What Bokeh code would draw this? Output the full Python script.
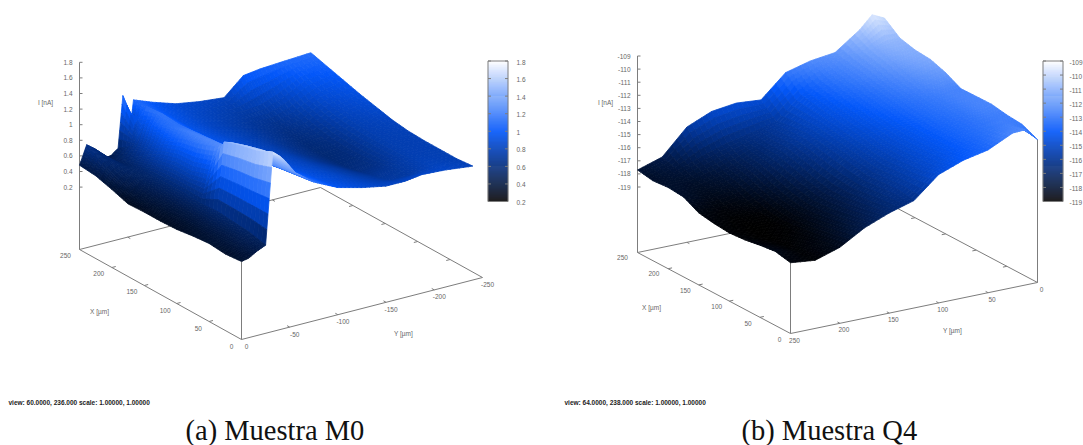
import numpy as np
from bokeh.plotting import figure
from bokeh.models import ColumnDataSource
from bokeh.core.properties import value
from bokeh.embed import file_html
from bokeh.resources import INLINE

# ---------- data ----------
m0_x = [0, 25, 50, 75, 100, 125, 150, 175, 200, 225, 250]
m0_y = [0, -7.5, -16, -25, -32.5, -40, -45, -52.5, -56, -75, -100, -125, -150, -170, -187.5, -212.5, -240]
m0_z = [
 [.40,.42,.48,.53,1.70,1.62,1.55,1.42,1.36,1.18,1.03,.95,.89,.89,.92,.90,.86],
 [.38,.42,.50,.58,1.60,1.58,1.50,1.38,1.32,1.15,1.00,.92,.84,.78,.78,.86,.84],
 [.40,.42,.48,.60,1.55,1.52,1.45,1.33,1.28,1.12,.98,.90,.80,.73,.75,.84,.84],
 [.38,.40,.48,.62,1.48,1.45,1.38,1.28,1.24,1.08,.96,.87,.77,.67,.69,.83,.84],
 [.35,.38,.46,.60,.95,1.28,1.30,1.24,1.20,1.05,.94,.85,.73,.64,.66,.83,.85],
 [.34,.38,.46,.62,.88,1.20,1.27,1.22,1.18,1.03,.92,.83,.71,.63,.65,.83,.88],
 [.34,.40,.48,.62,.88,1.15,1.24,1.20,1.16,1.01,.91,.82,.71,.64,.67,.85,.93],
 [.33,.42,.52,.62,.82,1.05,1.18,1.18,1.14,1.00,.90,.82,.73,.67,.72,.89,.98],
 [.40,.50,.58,.60,.72,.88,1.10,1.20,1.15,1.00,.90,.82,.75,.72,.79,.95,1.04],
 [.46,.60,.62,.55,.62,.72,.85,1.18,1.14,1.02,.92,.85,.80,.82,.90,1.05,1.10],
 [.48,.72,.64,.49,.50,.57,1.23,.78,1.14,1.05,.95,.90,.87,1.09,1.12,1.14,1.16],
]
q4_x = [0, 25, 50, 75, 100, 125, 150, 175, 200, 225, 250]
q4_y = [250, 225, 200, 175, 150, 125, 100, 75, 50, 25, 12.5, 0]
q4_z = [
 [-118.6,-118.8,-118.2,-117.1,-116.35,-115.8,-114.2,-113.5,-113.1,-112.2,-112.15,-113.1],
 [-118.35,-118.8,-118.4,-117.5,-116.6,-115.6,-114.6,-113.8,-113.2,-112.6,-112.4,-112.55],
 [-118.5,-118.9,-118.6,-117.8,-116.8,-115.7,-114.7,-113.9,-113.2,-112.7,-112.5,-112.45],
 [-118.7,-119,-118.8,-118,-117,-115.8,-114.8,-113.9,-113.2,-112.7,-112.3,-112.25],
 [-118.8,-119,-118.9,-118.1,-117,-115.6,-114.7,-113.9,-113.1,-112.6,-112.3,-112.27],
 [-118.7,-118.9,-118.8,-117.9,-116.7,-115.4,-114.5,-113.7,-113,-112.5,-112.3,-112.3],
 [-118.5,-118.7,-118.4,-117.5,-116.3,-115.2,-114.3,-113.5,-112.8,-112.2,-111.9,-111.7],
 [-117.9,-118.2,-117.9,-117,-116,-115,-114.1,-113.3,-112.6,-111.9,-111.5,-111.3],
 [-117.8,-117.9,-117.5,-116.8,-116,-115.1,-113.9,-113,-112.3,-111.5,-111.2,-111.2],
 [-117.9,-117.5,-116.8,-116.2,-115.8,-115.3,-113.7,-112.7,-112.1,-111.2,-110.9,-110.9],
 [-117.7,-117.1,-115.2,-114.4,-114.15,-114.3,-112.6,-112.1,-111.85,-110.5,-109.55,-110.0],
]
m0_x_ticks = [0, 50, 100, 150, 200, 250]
m0_y_ticks = [0, -50, -100, -150, -200, -250]
m0_z_ticks = [1.8, 1.6, 1.4, 1.2, 1, 0.8, 0.6, 0.4, 0.2]
q4_x_ticks = [0, 50, 100, 150, 200, 250]
q4_y_ticks = [250, 200, 150, 100, 50, 0]
q4_z_ticks = [-109, -110, -111, -112, -113, -114, -115, -116, -117, -118, -119]
palette_pos = [0.0, 0.5, 1.0]
palette_r = [0, 4, 255]
palette_g = [0, 88, 255]
palette_b = [0, 250, 255]
status_a = "view: 60.0000, 236.000  scale: 1.00000, 1.00000"
status_b = "view: 64.0000, 238.000  scale: 1.00000, 1.00000"
caption_a = "(a) Muestra M0"
caption_b = "(b) Muestra Q4"

AXIS = "#7d7d7d"
TXT = "#666666"
TICK = "6.5px"

def colour(f):
    f = np.clip(f, 0, 1)
    r = int(np.interp(f, palette_pos, palette_r))
    g = int(np.interp(f, palette_pos, palette_g))
    b = int(np.interp(f, palette_pos, palette_b))
    return "#%02x%02x%02x" % (r, g, b)

class View:
    """Oblique projection of a gnuplot-style 3D box onto the page."""
    def __init__(s, o, ex, ey, zbase, zscale, xr, yr, zr, gamma):
        s.o, s.ex, s.ey, s.zb, s.zs, s.xr, s.yr, s.zr, s.gamma = o, ex, ey, zbase, zscale, xr, yr, zr, gamma
    def pt(s, x, y, z=None):
        u = (np.asarray(x, float) - s.xr[0]) / (s.xr[1] - s.xr[0])
        v = (np.asarray(y, float) - s.yr[0]) / (s.yr[1] - s.yr[0])
        h = 0 if z is None else (np.asarray(z, float) - s.zb) * s.zs
        return s.o[0] + u * s.ex[0] + v * s.ey[0], s.o[1] + u * s.ex[1] + v * s.ey[1] - h

def fine(a, n):
    a = np.asarray(a, float)
    idx = np.arange((len(a) - 1) * n + 1) / n
    return np.interp(idx, np.arange(len(a)), a)

p = figure(width=1083, height=445, x_range=(0, 1083), y_range=(445, 0),
           output_backend="svg", toolbar_location=None, min_border=0,
           outline_line_color=None)
p.axis.visible = False
p.grid.visible = False
p.background_fill_color = "white"

def draw_surface(view, xs, ys, zz, nx, ny):
    zz = np.asarray(zz, float)
    fx = fine(xs, nx); fy = fine(ys, ny)
    ix = np.arange(len(fx)) / nx; iy = np.arange(len(fy)) / ny
    tmp = np.array([np.interp(iy, np.arange(zz.shape[1]), r) for r in zz])
    Z = np.array([np.interp(ix, np.arange(zz.shape[0]), c) for c in tmp.T]).T
    X, Y = np.meshgrid(fx, fy, indexing="ij")
    SX, SY = view.pt(X, Y, Z)
    px, py, cols = [], [], []
    for i in range(len(fx) - 2, -1, -1):
        for j in range(len(fy) - 2, -1, -1):
            idx = [(i, j), (i + 1, j), (i + 1, j + 1), (i, j + 1)]
            px.append([round(float(SX[a]), 2) for a in idx])
            py.append([round(float(SY[a]), 2) for a in idx])
            m = np.mean([Z[a] for a in idx])
            f = max((m - view.zr[0]) / (view.zr[1] - view.zr[0]), 0.0)
            cols.append(colour(f ** view.gamma))
    p.patches(px, py, fill_color=cols, line_color=cols, line_width=0.8)

def draw_text(x, y, t, size, align="center", color=TXT, font="Liberation Sans", style="normal"):
    src = ColumnDataSource(dict(x=x, y=y, t=t))
    p.text("x", "y", text="t", source=src, text_font=value(font), text_font_size=value(size),
           text_align=align, text_baseline="middle", text_color=color, text_font_style=style)

def segs(xa, ya, xb, yb, w=1.0):
    p.multi_line([[a, b] for a, b in zip(xa, xb)], [[a, b] for a, b in zip(ya, yb)],
                 line_color=AXIS, line_width=w)

def draw_box(v, xt, yt, zt, x_off, x0_off, y_off, extra_vert):
    xa, xb = v.xr; ya, yb = v.yr
    corners = [(xb, ya), (xa, ya), (xa, yb), (xb, yb), (xb, ya)]
    cx = [float(v.pt(a, b)[0]) for a, b in corners]
    cy = [float(v.pt(a, b)[1]) for a, b in corners]
    p.line(cx, cy, line_color=AXIS, line_width=1)
    top = v.pt(xb, ya, zt[0])
    base = v.pt(xb, ya)
    segs([float(top[0])], [float(top[1])], [float(base[0])], [float(base[1])])
    f = v.pt(xa, ya)
    segs([float(f[0])], [float(f[1])], [float(f[0])], [float(f[1]) - 78])
    if extra_vert:
        r = v.pt(xa, yb)
        segs([float(r[0])], [float(r[1])], [float(r[0])], [float(r[1]) - 143])
    dv = (yb - ya) * 0.016; du = (xb - xa) * 0.016
    for x in xt[1:-1]:
        a = v.pt(x, ya); b = v.pt(x, ya + dv)
        segs([float(a[0])], [float(a[1])], [float(b[0])], [float(b[1])])
        a = v.pt(x, yb); b = v.pt(x, yb - dv)
        segs([float(a[0])], [float(a[1])], [float(b[0])], [float(b[1])])
    for y in yt[1:-1]:
        a = v.pt(xa, y); b = v.pt(xa + du, y)
        segs([float(a[0])], [float(a[1])], [float(b[0])], [float(b[1])])
        a = v.pt(xb, y); b = v.pt(xb - du, y)
        segs([float(a[0])], [float(a[1])], [float(b[0])], [float(b[1])])
    zx, zy = v.pt(np.full(len(zt), xb), np.full(len(zt), ya), zt)
    segs(list(map(float, zx)), list(map(float, zy)), list(map(float, zx + 3)), list(map(float, zy)))
    draw_text(list(map(float, zx - 7)), list(map(float, zy)), [str(t) for t in zt], TICK, "right")
    fx, fy = v.pt(np.array(xt), np.full(len(xt), ya))
    lx = fx + np.interp(xt, [xa, xb], [x0_off[0], x_off[0]])
    ly = fy + np.interp(xt, [xa, xb], [x0_off[1], x_off[1]])
    draw_text(list(map(float, lx)), list(map(float, ly)), [str(t) for t in xt], TICK)
    gx, gy = v.pt(np.full(len(yt), xa), np.array(yt))
    draw_text(list(map(float, gx + y_off[0])), list(map(float, gy + y_off[1])), [str(t) for t in yt], TICK)

def draw_bar(x0, x1, y0, y1, lo, hi, ticks, lx):
    n = 140
    e = np.linspace(y1, y0, n + 1)
    p.quad(left=x0, right=x1, top=e[1:], bottom=e[:-1],
           fill_color=[colour((i + .5) / n) for i in range(n)],
           line_color=[colour((i + .5) / n) for i in range(n)], line_width=0.3)
    p.quad(left=[x0], right=[x1], top=[y0], bottom=[y1], fill_color=None, line_color=AXIS, line_width=1)
    ty = [y1 + (y0 - y1) * (t - lo) / (hi - lo) for t in ticks]
    segs([x0] * len(ty), ty, [x0 + 3] * len(ty), ty)
    segs([x1] * len(ty), ty, [x1 - 3] * len(ty), ty)
    draw_text([lx] * len(ty), [t + 1 for t in ty], [str(t) for t in ticks], TICK, "left")

va = View((241, 339), (-162, -90), (241, -62), -0.6, 78, (0, 250), (0, -250), (0.2, 1.8), 1.12)
draw_box(va, m0_x_ticks, m0_y_ticks, m0_z_ticks, (-14, 6), (-10, 7), (5, 7), False)
draw_surface(va, m0_x, m0_y, m0_z, 4, 6)
draw_bar(487.5, 507.5, 60.5, 201, 0.2, 1.8, m0_z_ticks, 516)
draw_text([45, 99, 403], [102, 311, 333], ["I [nA]", "X [µm]", "Y [µm]"], TICK)

vb = View((790, 333), (-153, -81), (247, -51), -124, 13.1, (0, 250), (250, 0), (-119, -109), 1.15)
draw_box(vb, q4_x_ticks, q4_y_ticks, q4_z_ticks, (-15, 5), (-11, 6), (4, 6.5), True)
draw_surface(vb, q4_x, q4_y, q4_z, 5, 5)
draw_bar(1042.5, 1062.5, 60.5, 201, -119, -109, q4_z_ticks, 1069)
draw_text([605, 651, 952], [102, 307, 330], ["I [nA]", "X [µm]", "Y [µm]"], TICK)

draw_text([8, 564], [402, 402], [status_a, status_b], "6.5px", "left", "#222222", style="bold")
draw_text([185, 741], [430, 430], [caption_a, caption_b], "28.5px", "left", "#111111", font="Liberation Serif")

open("out.html", "w").write(file_html(p, INLINE))
